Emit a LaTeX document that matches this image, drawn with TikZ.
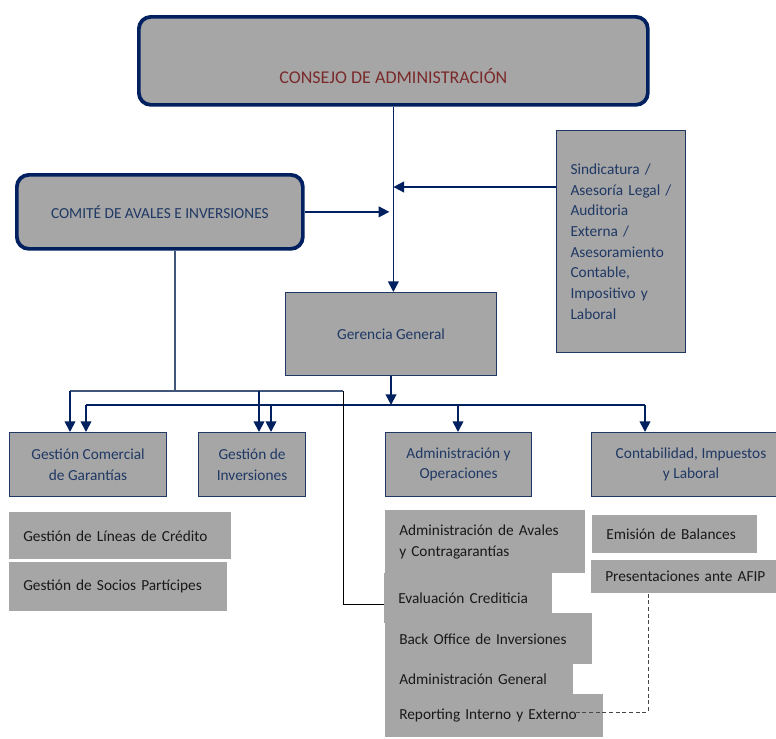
\documentclass[tikz,border=0pt]{standalone}
\usepackage{fontspec}
\setmainfont{Carlito}
\usetikzlibrary{arrows.meta}

\definecolor{boxGray}{RGB}{166,166,166}
\definecolor{boardNavy}{RGB}{0,32,96}
\definecolor{unitNavy}{RGB}{31,56,100}
\definecolor{boardRed}{RGB}{122,42,42}
\definecolor{taskBlack}{RGB}{25,25,25}
\definecolor{dashGray}{RGB}{70,70,70}

\begin{document}
\begin{tikzpicture}[x=0.75pt,y=-0.75pt,
  font=\fontsize{11.5}{15.5}\selectfont,
  board/.style={draw=boardNavy, line width=2.8pt, rounded corners=9pt, fill=boxGray,
    anchor=north west, inner sep=0pt, text=unitNavy},
  unit/.style={draw=unitNavy, line width=0.8pt, fill=boxGray, anchor=north west,
    inner sep=0pt, align=center, text=unitNavy},
  task/.style={fill=boxGray, anchor=north west, inner xsep=10.5pt, inner ysep=0pt,
    align=left, text=taskBlack},
  link/.style={draw=boardNavy, line width=1.3pt},
  arr/.style={link, -{Triangle[length=8pt,width=8pt]}},
  comlink/.style={draw=unitNavy!85, line width=0.8pt}]
  \useasboundingbox (0,0) rectangle (776,739);

  % Board and committee
  \node[board, minimum width=381.75pt, minimum height=66pt,
    label={[text=boardRed, font=\fontsize{13.5}{16}\selectfont, yshift=-11.5pt]center:CONSEJO DE ADMINISTRACIÓN}]
    (cons) at (137,15) {};
  \node[board, minimum width=214.5pt, minimum height=55.5pt] (comite) at (15,173)
    {COMITÉ DE AVALES E INVERSIONES};
  \node[unit, align=left, text width=75.75pt, inner xsep=10.5pt, minimum height=166.5pt]
    (sind) at (556,130)
    {Sindicatura /\\Asesoría Legal /\\Auditoria\\Externa /\\Asesoramiento\\Contable,\\Impositivo y\\Laboral};
  \node[unit, minimum width=158.25pt, minimum height=62.25pt] (ger) at (285,292)
    {Gerencia General};

  % Areas
  \node[unit, minimum width=117.75pt, minimum height=48pt] (gcom) at (9,432)
    {Gestión Comercial\\de Garantías};
  \node[unit, minimum width=80.25pt, minimum height=48pt] (ginv) at (198,432)
    {Gestión de\\Inversiones};
  \node[unit, minimum width=109.5pt, minimum height=48pt] (adm) at (385,432)
    {Administración y\\Operaciones};
  \node[unit, minimum width=149.25pt, minimum height=48pt] (cont) at (591,432)
    {Contabilidad, Impuestos\\y Laboral};

  % Tasks
  \node[task, text width=145.5pt, minimum height=35.25pt] (lin) at (9,512)
    {Gestión de Líneas de Crédito};
  \node[task, text width=142.5pt, minimum height=36.75pt] (soc) at (9,562)
    {Gestión de Socios Partícipes};
  \node[task, text width=129pt, minimum height=47.25pt] (aval) at (385,510)
    {Administración de Avales\\y Contragarantías};
  \node[task, text width=105pt, minimum height=37.5pt] (eval) at (384,573)
    {Evaluación Crediticia};
  \node[task, text width=134.25pt, minimum height=38.25pt] (back) at (385,613)
    {Back Office de Inversiones};
  \node[task, text width=120pt, minimum height=22.5pt] (admgen) at (385,664)
    {Administración General};
  \node[task, text width=142.5pt, minimum height=32.25pt] (rep) at (385,694)
    {Reporting Interno y Externo};
  \node[task, text width=102.75pt, minimum height=28.5pt] (emis) at (592,515)
    {Emisión de Balances};
  \node[task, text width=125pt, minimum height=24.75pt] (afip) at (591,560)
    {Presentaciones ante AFIP};

  % Top connectors
  \draw[arr] (cons.south) -- (cons.south |- ger.north);
  \draw[arr] (sind.west |- 0,187) -- (cons.south |- 0,187);
  \draw[arr, shorten >=3pt] (comite.east) -- (cons.south |- comite.east);

  % Gerencia bus
  \coordinate (busL) at (86,405);
  \coordinate (busR) at (645,405);
  \draw[arr] (ger.south) -- (ger.south |- busL);
  \draw[link] (busL) -- (busR);
  \foreach \x/\n in {86/gcom, 271/ginv, 458/adm, 645/cont}
    \draw[arr] (\x,405) -- (\x,405 |- \n.north);

  % Committee links
  \coordinate (comJ) at (175,391);
  \draw[comlink] (comite.south -| comJ) -- (comJ);
  \draw[comlink] (70,391) -- (343,391);
  \foreach \x/\n in {70/gcom, 259/ginv}
    \draw[arr] (\x,391) -- (\x,391 |- \n.north);
  \draw[black, line width=0.7pt] (343,391) -- (343,604) -- (eval.west |- 0,604);

  % Reporting link
  \coordinate (repEnd) at (573,712);
  \draw[dashGray, line width=0.7pt, dash pattern=on 3pt off 2pt]
    (afip.south -| repEnd) ++(75,0) -- (648,712) -- (repEnd);
\end{tikzpicture}
\end{document}
